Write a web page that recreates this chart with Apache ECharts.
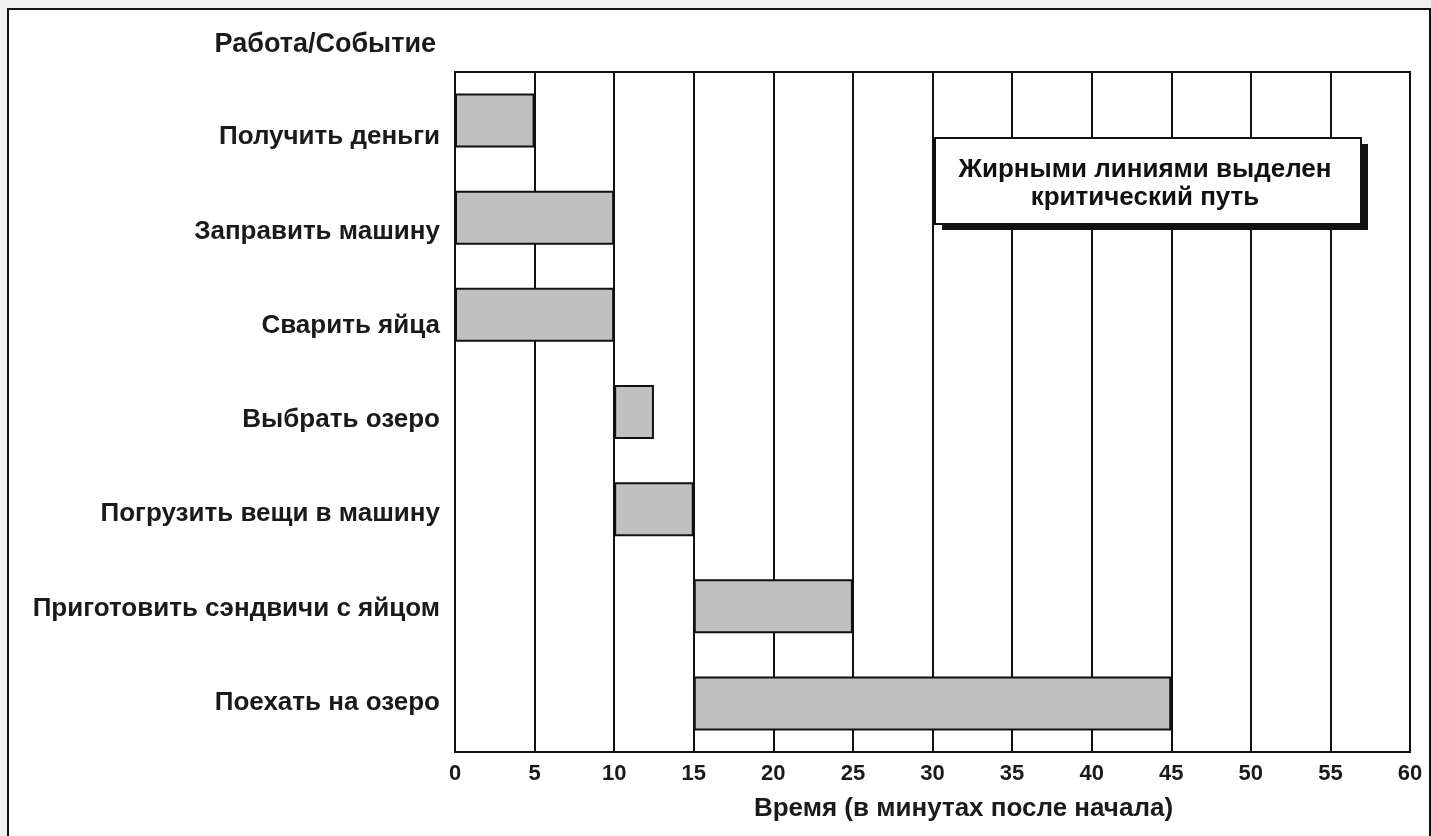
<!DOCTYPE html>
<html>
<head>
<meta charset="utf-8">
<script src="https://cdn.jsdelivr.net/npm/echarts@6/dist/echarts.min.js"></script>
<style>
html,body{margin:0;padding:0;background:#f0f0f0;width:1431px;height:836px;overflow:hidden;}
#frame{position:absolute;left:7px;top:8px;width:1420px;height:840px;border:2px solid #111;background:#fff;}
#chart{position:absolute;left:0;top:0;width:1431px;height:836px;}
</style>
</head>
<body>
<div id="frame"></div>
<div id="chart"></div>
<script>
const categories = ['Получить деньги','Заправить машину','Сварить яйца','Выбрать озеро','Погрузить вещи в машину','Приготовить сэндвичи с яйцом','Поехать на озеро'];
const startTimes = [0, 0, 0, 10, 10, 15, 15];
const durations = [5, 10, 10, 2.5, 5, 10, 30];
const yAxisTitle = 'Работа/Событие';
const xAxisTitle = 'Время (в минутах после начала)';
const noteLines = ['Жирными линиями выделен', 'критический путь'];

const chart = echarts.init(document.getElementById('chart'), null, {renderer:'canvas'});
const font = '"Liberation Sans", Arial, sans-serif';
const ink = '#1a1a1a';
chart.setOption({
  backgroundColor: 'transparent',
  animation: false,
  grid: [
    {left: 455, right: 21, top: 72, bottom: 84, show: true, borderColor: '#111', borderWidth: 2, backgroundColor: 'transparent'},
    {left: 455, right: 21, top: 90, bottom: 86, show: false}
  ],
  xAxis: [{
    type: 'value', min: 0, max: 60, interval: 5, gridIndex: 0,
    axisLine: {show: true, lineStyle: {color: '#111', width: 2}},
    axisTick: {show: false},
    splitLine: {show: true, lineStyle: {color: '#111', width: 2}},
    axisLabel: {color: ink, fontSize: 22, fontWeight: 'bold', fontFamily: font, margin: 11},
    name: xAxisTitle, nameLocation: 'middle', nameGap: 44,
    nameTextStyle: {color: ink, fontSize: 26, fontWeight: 'bold', fontFamily: font, padding: [0, 0, 0, 62]}
  }, {
    type: 'value', min: 0, max: 60, gridIndex: 1, show: false
  }],
  yAxis: [{
    type: 'category', data: categories, inverse: true, gridIndex: 0,
    axisLine: {show: true, lineStyle: {color: '#111', width: 2}},
    axisTick: {show: false},
    splitLine: {show: false},
    axisLabel: {show: false}
  }, {
    type: 'category', data: categories, inverse: true, gridIndex: 1,
    axisLine: {show: false}, axisTick: {show: false}, splitLine: {show: false},
    axisLabel: {color: ink, fontSize: 26, fontWeight: 'bold', fontFamily: font, margin: 15}
  }],
  series: [
    {type: 'bar', stack: 'g', data: startTimes, barWidth: 54, itemStyle: {color: 'transparent'}, silent: true},
    {type: 'bar', stack: 'g', data: durations, barWidth: 54,
     itemStyle: {color: '#c0c0c0', borderColor: '#111', borderWidth: 2}}
  ],
  graphic: [
    {type: 'text', x: 436, y: 45, z: 100, style: {text: yAxisTitle, fill: ink, font: 'bold 27px ' + font, textAlign: 'right', textVerticalAlign: 'middle'}},
    {type: 'rect', x: 942, y: 144, z: 100, shape: {width: 426, height: 86}, style: {fill: '#111'}},
    {type: 'rect', x: 935, y: 138, z: 101, shape: {width: 426, height: 86}, style: {fill: '#fff', stroke: '#111', lineWidth: 2}},
    {type: 'text', x: 1145, y: 170, z: 102, style: {text: noteLines[0], fill: '#111', font: 'bold 26px ' + font, textAlign: 'center', textVerticalAlign: 'middle'}},
    {type: 'text', x: 1145, y: 198, z: 102, style: {text: noteLines[1], fill: '#111', font: 'bold 26px ' + font, textAlign: 'center', textVerticalAlign: 'middle'}}
  ]
});
</script>
</body>
</html>
